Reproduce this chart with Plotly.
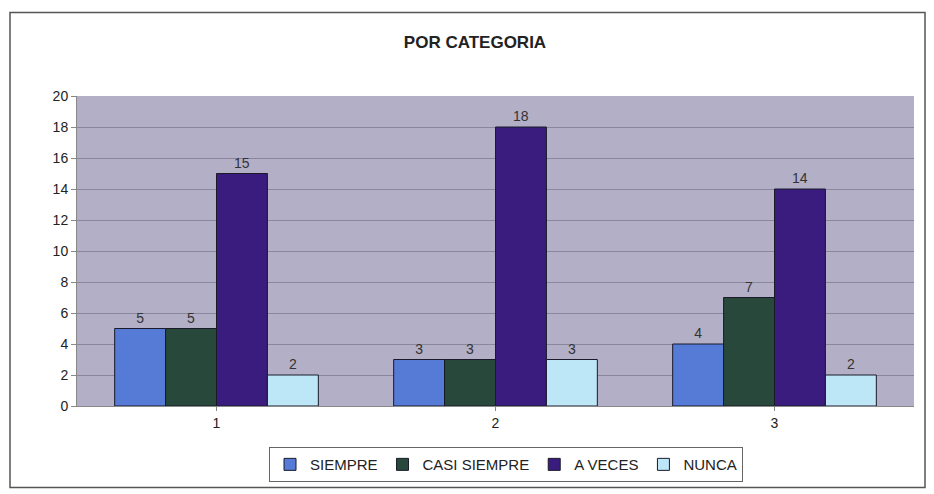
import plotly.graph_objects as go

categories = ["1", "2", "3"]
series_names = ["SIEMPRE", "CASI SIEMPRE", "A VECES", "NUNCA"]
siempre = [5, 3, 4]
casi_siempre = [5, 3, 7]
a_veces = [15, 18, 14]
nunca = [2, 3, 2]
y_ticks = [0, 2, 4, 6, 8, 10, 12, 14, 16, 18, 20]

values = [siempre, casi_siempre, a_veces, nunca]
colors = ["#557bd6", "#27483a", "#3a1c7e", "#bde6f6"]

fig = go.Figure()
for name, vals, col in zip(series_names, values, colors):
    fig.add_trace(go.Bar(
        name=name, x=categories, y=vals,
        marker=dict(color=col, line=dict(color="#1a1a2a", width=1)),
        text=[str(v) for v in vals], textposition="outside",
        textfont=dict(family="Liberation Sans, Arial", size=14, color="#333333"),
        cliponaxis=False,
    ))

W, H = 934, 494
L, R, T, B = 77, 914, 96, 408
pw, ph = R - L, B - T

def px_x(x):
    return (x - L) / pw

def px_y(y):
    return (B - y) / ph

fig.update_layout(
    width=W, height=H,
    margin=dict(l=L, r=W - R, t=T, b=H - B),
    paper_bgcolor="white",
    plot_bgcolor="#b3afc6",
    barmode="group",
    bargap=0.27,
    bargroupgap=0,
    font=dict(family="Liberation Sans, Arial", size=14, color="#222222"),
    title=dict(text="<b>POR CATEGORIA</b>", x=(475) / W, xanchor="center",
               y=1 - 42 / H, yanchor="middle",
               font=dict(size=17, color="#222222")),
    showlegend=True,
    legend=dict(orientation="h", x=px_x(506), xanchor="center",
                y=px_y(467), yanchor="middle",
                bordercolor="#666666", borderwidth=1, bgcolor="white",
                font=dict(size=15, color="#222222"),
                itemwidth=30, traceorder="normal", tracegroupgap=0),
    xaxis=dict(showgrid=False, showline=True, linecolor="#888888",
               ticks="outside", ticklen=4, tickcolor="#888888",
               tickfont=dict(size=14)),
    yaxis=dict(range=[0, 20], tickvals=y_ticks, showgrid=True,
               gridcolor="#8a879c", gridwidth=1, showline=True,
               linecolor="#888888", ticks="outside", ticklen=5,
               tickcolor="#888888", zeroline=False,
               tickfont=dict(size=14)),
    shapes=[dict(type="rect", xref="paper", yref="paper",
                 x0=px_x(10), x1=px_x(925), y0=px_y(490), y1=px_y(12),
                 line=dict(color="#555555", width=1.5), layer="below")],
)

fig.write_html("out.html", config={"displayModeBar": False},
               post_script="document.body.style.margin='0';document.body.style.padding='0';")
